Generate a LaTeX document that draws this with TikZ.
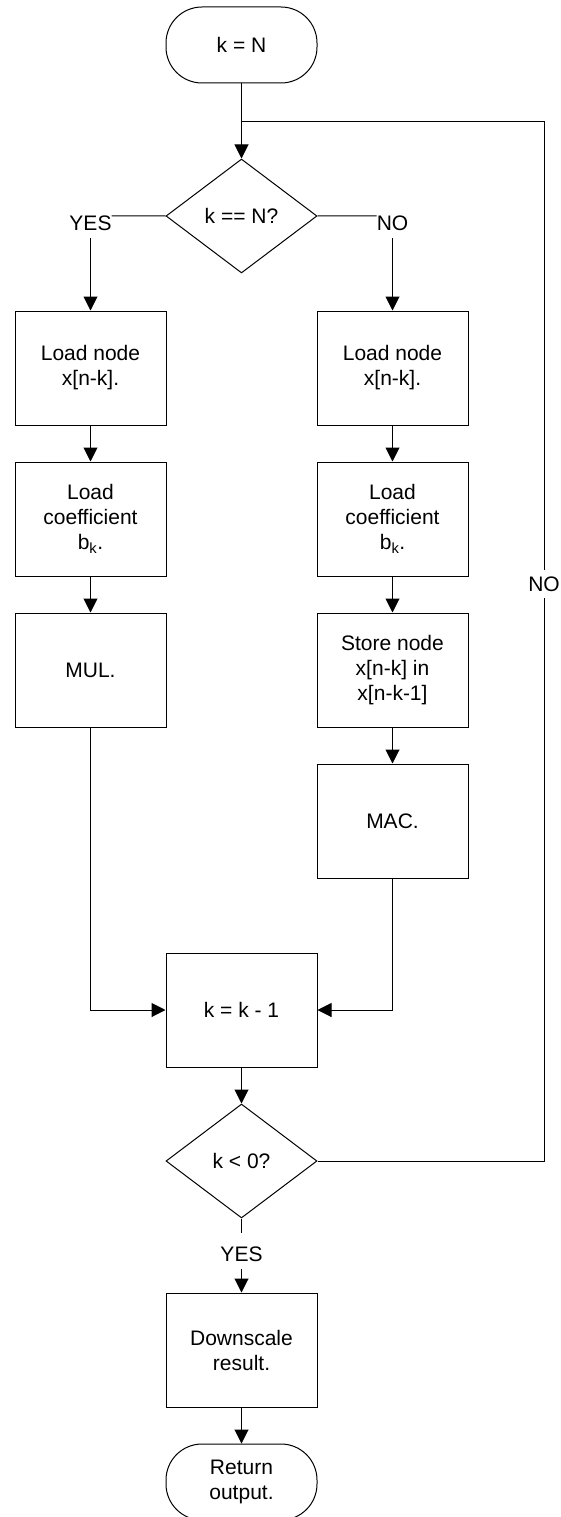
\documentclass[tikz,border=0pt]{standalone}
\usepackage{fontspec}
\setmainfont{Liberation Sans}
\usetikzlibrary{arrows.meta,shapes.geometric}
\begin{document}
\begin{tikzpicture}[x=1pt,y=-1pt,
  every node/.style={font=\fontsize{21}{25}\selectfont, text=black},
  ln/.style={draw=black, line width=1pt},
  arr/.style={ln, -{Triangle[width=14pt,length=14pt]}},
  proc/.style={ln, minimum width=151pt, minimum height=114pt, align=center, inner sep=2pt},
  term/.style={proc, minimum height=76pt, rounded corners=36pt},
  dec/.style={ln, diamond, aspect=1.325, minimum width=151pt, minimum height=114pt, inner sep=0pt, align=center},
  lbl/.style={inner sep=0pt}
]
\useasboundingbox (0,0) rectangle (560,1517);

\node[term] (start) at (241.5,45) {k = N};
\coordinate (j) at (241.5,122);
\node[dec] (d1) at (241.5,216) {k == N?};
\node[lbl] (yes1) at (90.5,223.5) {YES};
\node[lbl] (no1) at (392.5,223.5) {NO};

\node[proc] (l1) at (90.5,368) {Load node\\x[n-k].};
\node[proc] (l2) at (90.5,519) {Load\\coefficient\\b\textsubscript{k}.};
\node[proc] (l3) at (90.5,670) {MUL.};

\node[proc] (r1) at (392.5,368) {Load node\\x[n-k].};
\node[proc] (r2) at (392.5,519) {Load\\coefficient\\b\textsubscript{k}.};
\node[proc] (r3) at (392.5,670) {Store node\\x[n-k] in\\x[n-k-1]};
\node[proc] (r4) at (392.5,821) {MAC.};

\node[proc] (c) at (241.5,1010) {k = k - 1};
\node[dec] (d2) at (241.5,1161) {k {\textless} 0?};
\node[lbl] (yes2) at (241.5,1254.5) {YES};
\node[proc] (ds) at (241.5,1350) {Downscale\\result.};
\node[term] (stop) at (241.5,1482) {Return\\output.};
\node[lbl, inner ysep=6pt] (no2) at (544,584) {NO};

% connectors
\draw[arr] (start) -- (d1);
\draw[ln] (d1.west) -- (yes1.north east);
\draw[arr] ([yshift=-7pt]yes1.south) -- (l1.north);
\draw[ln] (d1.east) -- (no1.north west);
\draw[arr] ([yshift=-7pt]no1.south) -- (r1.north);

\draw[arr] (l1) -- (l2);
\draw[arr] (l2) -- (l3);
\draw[arr] (r1) -- (r2);
\draw[arr] (r2) -- (r3);
\draw[arr] (r3) -- (r4);

\draw[arr] (l3.south) |- (c.west);
\draw[arr] (r4.south) |- (c.east);
\draw[arr] (c) -- (d2);

\draw[ln] (d2.east) -| (no2.south);
\draw[ln] (no2.north) |- (j);

\draw[ln] (d2.south) -- ([yshift=14pt]yes2.north);
\draw[arr] ([yshift=-7pt]yes2.south) -- (ds.north);
\draw[arr] (ds) -- (stop);
\end{tikzpicture}
\end{document}
